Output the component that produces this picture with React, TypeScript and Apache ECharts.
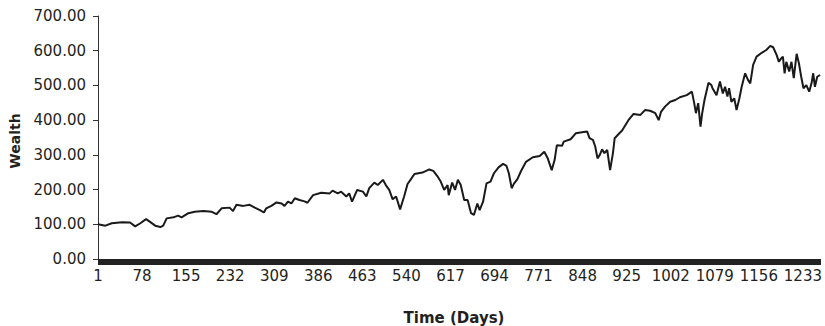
import React, { useEffect, useRef } from "react";
import * as echarts from "echarts";

const N_DAYS = 1263;
const dayLabels: string[] = Array.from({ length: N_DAYS }, (_, i) => String(i + 1));

const obsDays: number[] = [
  1, 14, 25, 43, 57, 66, 75, 85, 92, 101, 110, 115, 121, 133, 141, 147, 159, 170, 185,
  200, 208, 217, 231, 237, 243, 255, 266, 275, 284, 291, 295, 304, 313, 322, 327, 333, 339, 345, 353, 362,
  367, 377, 391, 406, 411, 420, 426, 435, 440, 445, 454, 464, 470, 475, 484, 490, 499, 504, 510, 516, 522,
  529, 536, 542, 548, 554, 568, 580, 587, 594, 600, 606, 612, 614, 620, 625, 630, 635, 641, 647, 653, 658,
  664, 668, 674, 680, 687, 693, 701, 709, 715, 719, 724, 728, 734, 740, 749, 761, 773, 781, 787, 794, 799,
  803, 812, 815, 827, 836, 847, 856, 860, 866, 870, 874, 878, 882, 886, 891, 896, 901, 904, 911, 917, 928,
  937, 949, 957, 966, 975, 981, 985, 992, 1001, 1010, 1018, 1030, 1039, 1043, 1046, 1050, 1054, 1057, 1061,
  1068, 1073, 1075, 1082, 1088, 1093, 1097, 1101, 1104, 1108, 1113, 1117, 1122, 1126, 1132, 1137, 1141,
  1146, 1152, 1161, 1169, 1176, 1181, 1187, 1191, 1195, 1198, 1201, 1204, 1209, 1213, 1217, 1222, 1226,
  1230, 1234, 1239, 1244, 1248, 1251, 1254, 1258, 1263,
];

const wealthValues: number[] = [
  100, 96, 103, 106, 105, 94, 103, 115, 107, 96, 92, 96, 117, 120, 125, 120, 132, 136, 138,
  136, 129, 146, 148, 138, 156, 153, 156, 148, 141, 134, 146, 153, 163, 160, 153, 165, 160, 175, 170, 166,
  162, 184, 191, 189, 197, 189, 194, 180, 189, 165, 199, 194, 180, 204, 220, 213, 228, 213, 199, 172, 180,
  143, 180, 216, 230, 245, 249, 258, 254, 239, 223, 199, 213, 184, 220, 199, 228, 213, 170, 170, 132, 127,
  160, 141, 165, 218, 223, 247, 264, 274, 268, 247, 204, 217, 230, 252, 280, 293, 297, 309, 290, 256, 285,
  328, 326, 338, 345, 362, 365, 367, 348, 343, 324, 290, 300, 316, 305, 314, 256, 305, 348, 360, 370, 400,
  418, 415, 429, 427, 420, 400, 424, 439, 453, 458, 466, 472, 482, 449, 420, 449, 381, 420, 458,
  508, 501, 492, 472, 511, 477, 496, 468, 492, 453, 463, 429, 463, 496, 535, 516, 506,
  559, 583, 594, 602, 614, 610, 588, 568, 578, 583, 535, 568, 540, 568, 521, 591, 564,
  525, 492, 501, 482, 506, 535, 496, 525, 530,
];

const yTicks = { min: 0, max: 700, step: 100 };

const TEXT_COLOR = "#231f20";
const FONT = "DejaVu Sans";

export default function App() {
  const ref = useRef<HTMLDivElement>(null);

  useEffect(() => {
    if (!ref.current) return;
    const chart = echarts.init(ref.current, undefined, { renderer: "svg" });
    const seriesData = obsDays.map((d, i) => [d - 1, wealthValues[i]]);
    chart.setOption({
      animation: false,
      backgroundColor: "#ffffff",
      grid: { left: 98, right: 3, top: 16, bottom: 67, containLabel: false },
      xAxis: {
        type: "category",
        data: dayLabels,
        boundaryGap: false,
        axisLine: { show: true, lineStyle: { color: "#333333", width: 1 } },
        axisTick: { show: true, interval: 0, length: 6, lineStyle: { color: "#222222", width: 1 } },
        axisLabel: {
          interval: 76,
          margin: 9,
          color: TEXT_COLOR,
          fontFamily: FONT,
          fontSize: 15,
          hideOverlap: false,
        },
        splitLine: { show: false },
      },
      yAxis: {
        type: "value",
        min: yTicks.min,
        max: yTicks.max,
        interval: yTicks.step,
        axisLine: { show: true, lineStyle: { color: "#333333", width: 1 } },
        axisTick: { show: true, length: 5, lineStyle: { color: "#333333" } },
        axisLabel: {
          margin: 12,
          color: TEXT_COLOR,
          fontFamily: FONT,
          fontSize: 15,
          formatter: (v: number) => v.toFixed(2),
        },
        splitLine: { show: false },
      },
      series: [
        {
          type: "line",
          data: seriesData,
          showSymbol: false,
          symbol: "none",
          lineStyle: { color: "#1a1a1a", width: 2 },
        },
      ],
      graphic: [
        {
          type: "text",
          x: 15,
          y: 141,
          rotation: Math.PI / 2,
          style: {
            text: "Wealth",
            fill: TEXT_COLOR,
            font: `bold 14px "${FONT}"`,
            textAlign: "center",
            textVerticalAlign: "middle",
          },
        },
        {
          type: "text",
          x: 454,
          y: 318,
          style: {
            text: "Time (Days)",
            fill: TEXT_COLOR,
            font: `bold 15px "${FONT}"`,
            textAlign: "center",
            textVerticalAlign: "middle",
          },
        },
      ],
    });
    return () => chart.dispose();
  }, []);

  return (
    <div
      ref={ref}
      style={{ position: "absolute", left: 0, top: 0, width: 825, height: 326 }}
    />
  );
}
